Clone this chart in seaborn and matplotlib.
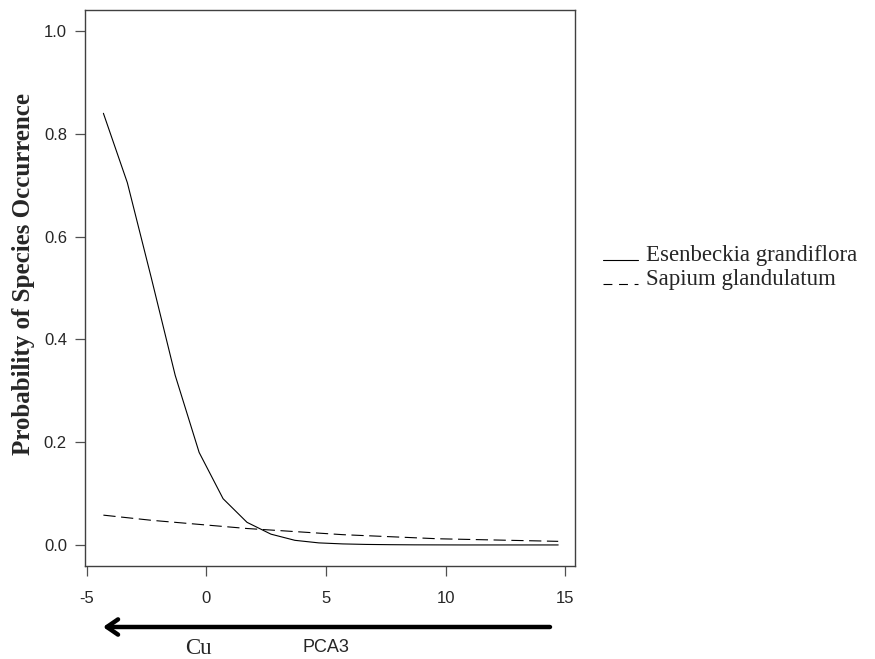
import matplotlib
matplotlib.use("Agg")
import matplotlib.pyplot as plt
import seaborn as sns
import pandas as pd
from matplotlib.lines import Line2D

pca3 = [-4.3, -3.3, -2.3, -1.3, -0.3, 0.7, 1.7, 2.7, 3.7, 4.7,
        5.7, 6.7, 7.7, 8.7, 9.7, 10.7, 11.7, 12.7, 13.7, 14.7]
esenbeckia = [0.84, 0.705, 0.52, 0.33, 0.18, 0.09, 0.044, 0.021, 0.009, 0.004,
              0.002, 0.001, 0.0005, 0.0002, 0.0001, 0.0, 0.0, 0.0, 0.0, 0.0]
sapium = [0.058, 0.053, 0.048, 0.044, 0.040, 0.036, 0.032, 0.029, 0.026, 0.023,
          0.020, 0.018, 0.016, 0.014, 0.012, 0.011, 0.010, 0.009, 0.008, 0.007]
species = ["Esenbeckia grandiflora", "Sapium glandulatum"]
yticks = [0.0, 0.2, 0.4, 0.6, 0.8, 1.0]
xticks = [-5, 0, 5, 10, 15]

df = pd.DataFrame({
    "PCA3": pca3 * 2,
    "prob": esenbeckia + sapium,
    "species": [species[0]] * len(pca3) + [species[1]] * len(pca3),
})

sns.set_style("white")
fig = plt.figure(figsize=(8.75, 6.59), dpi=100)
ax = fig.add_axes([0.0971, 0.1411, 0.5600, 0.8437])

sns.lineplot(data=df, x="PCA3", y="prob", hue="species", style="species",
             palette=["black", "black"], dashes=[(None, None), (11, 5)],
             linewidth=0.8, ax=ax, legend=False)

ax.set_xlim(-5.07, 15.4)
ax.set_ylim(-0.041, 1.041)
ax.set_xticks(xticks)
ax.set_xticklabels(["-5", "0", "5", "10", "15"])
ax.set_yticks(yticks)
ax.set_yticklabels([f"{v:.1f}" for v in yticks])
for s in ax.spines.values():
    s.set_color("#404040")
    s.set_linewidth(1.0)
ax.tick_params(axis="both", which="major", direction="out", length=7, width=0.9,
               color="#505050", labelsize=12, bottom=True, left=True)
ax.tick_params(axis="x", pad=11)
ax.tick_params(axis="y", pad=6)
for lab in ax.get_xticklabels() + ax.get_yticklabels():
    lab.set_fontfamily("Liberation Sans")
ax.set_xlabel("")
ax.set_ylabel("Probability of Species Occurrence", fontfamily="Liberation Serif",
              fontweight="bold", fontsize=18)
ax.yaxis.set_label_coords(-0.102, 0.526)

# legend outside right (manual, baseline-aligned handles)
W, H = 875.0, 659.0
rows = [(261, "-"), (285, (0, (8, 6)))]
for (ybase, ls), name in zip(rows, species):
    fig.add_artist(Line2D([603 / W, 638 / W], [1 - (ybase - 1) / H] * 2,
                          transform=fig.transFigure, color="black", lw=0.8,
                          linestyle=ls))
    fig.text(646 / W, 1 - ybase / H, name, ha="left", va="baseline",
             fontfamily="Liberation Serif", fontsize=16.5)

# arrow below axis
ax.annotate("", xy=(103 / W, 1 - 627 / H), xytext=(550 / W, 1 - 627 / H),
            xycoords="figure fraction", textcoords="figure fraction",
            arrowprops=dict(arrowstyle="->,head_length=0.8,head_width=0.55",
                            color="black", lw=3.2, shrinkA=0, shrinkB=0))
fig.text(198 / W, 1 - 648 / H, "Cu", ha="center", va="center",
         fontfamily="Liberation Serif", fontsize=16.5)
fig.text(303 / W, 1 - 648 / H, "PCA3", ha="left", va="center",
         fontfamily="Liberation Sans", fontsize=13)

fig.savefig("out.png", dpi=100)
